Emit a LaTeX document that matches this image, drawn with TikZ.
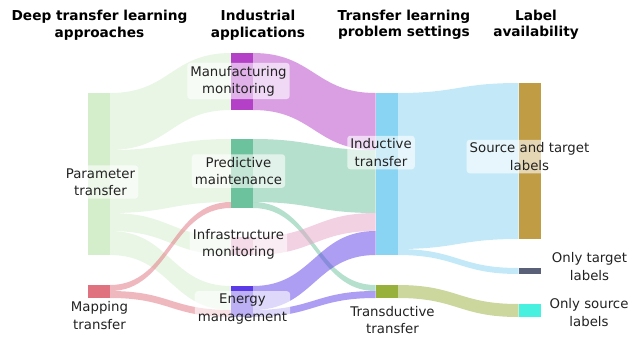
\documentclass[tikz,border=0pt]{standalone}
\usepackage{fontspec}
\setmainfont{DejaVu Sans}
\usetikzlibrary{backgrounds,positioning}

\definecolor{paramc}{HTML}{D4EECB}
\definecolor{mapc}{HTML}{E0727F}
\definecolor{manufc}{HTML}{B540C8}
\definecolor{predc}{HTML}{6CC29C}
\definecolor{infrac}{HTML}{E6A3C5}
\definecolor{energyc}{HTML}{5B3BE8}
\definecolor{inducc}{HTML}{88D4F2}
\definecolor{transc}{HTML}{98B03C}
\definecolor{stc}{HTML}{C09C44}
\definecolor{otc}{HTML}{5A6078}
\definecolor{osc}{HTML}{48F0E0}
\definecolor{labeltext}{HTML}{222222}

% band from #2 (offsets #3..#4 below its top) to #5 (offsets #6..#7)
\newcommand{\sankeyflow}[7]{%
  \fill[#1,fill opacity=0.5] ([yshift=-#3pt]#2.north east)
    .. controls +(60pt,0pt) and +(-60pt,0pt) .. ([yshift=-#6pt]#5.north west)
    -- ([yshift=-#7pt]#5.north west)
    .. controls +(-60pt,0pt) and +(60pt,0pt) .. ([yshift=-#4pt]#2.north east) -- cycle;}

\begin{document}
\begin{tikzpicture}[x=1pt,y=-1pt,
  bar/.style={rectangle,minimum width=22pt,inner sep=0pt,outer sep=0pt},
  lbl/.style={fill=white,fill opacity=0.6,text opacity=1,text=labeltext,rounded corners=3pt,
    inner sep=3pt,align=center,font=\fontsize{13.3}{17.2}\selectfont},
  head/.style={align=center,text=black,font=\bfseries\fontsize{13.7}{16.5}\selectfont}]
  \useasboundingbox (0,0) rectangle (630,338);

  % headers
  \node(h1)[head] at (99.5,25) {Deep transfer learning\\approaches};
  \node(h2)[head] at (258,25) {Industrial\\applications};
  \node(h3)[head] at (404,25) {Transfer learning\\problem settings};
  \node(h4)[head] at (536,25) {Label\\availability};

  % nodes
  \node(param) [bar,fill=paramc,minimum height=162pt] at (99,174) {};
  \node(mapping)[bar,fill=mapc,minimum height=13pt] at (99,291.5) {};
  \node(manuf) [bar,fill=manufc,minimum height=57pt] at (242,81.5) {};
  \node(pred)  [bar,fill=predc,minimum height=69pt] at (242,173.5) {};
  \node(infra) [bar,fill=infrac,minimum height=18pt] at (242,246) {};
  \node(energy)[bar,fill=energyc,minimum height=31pt] at (242,301.5) {};
  \node(induc) [bar,fill=inducc,minimum height=162pt] at (386.5,174) {};
  \node(trans) [bar,fill=transc,minimum height=13pt] at (386.5,291.5) {};
  \node(st)    [bar,fill=stc,minimum height=156pt] at (529.5,161) {};
  \node(ot)    [bar,fill=otc,minimum height=6pt] at (529.5,271) {};
  \node(os)    [bar,fill=osc,minimum height=13pt] at (529.5,310.5) {};

  \begin{scope}[on background layer]
    \sankeyflow{paramc}{param}{0}{57}{manuf}{0}{57}
    \sankeyflow{paramc}{param}{57}{120}{pred}{0}{63}
    \sankeyflow{paramc}{param}{120}{138}{infra}{0}{18}
    \sankeyflow{paramc}{param}{138}{162}{energy}{0}{24}
    \sankeyflow{mapc}{mapping}{0}{6}{pred}{63}{69}
    \sankeyflow{mapc}{mapping}{6}{13}{energy}{24}{31}
    \sankeyflow{manufc}{manuf}{0}{57}{induc}{0}{57}
    \sankeyflow{predc}{pred}{0}{63}{induc}{57}{120}
    \sankeyflow{predc}{pred}{63}{69}{trans}{0}{6}
    \sankeyflow{infrac}{infra}{0}{18}{induc}{120}{138}
    \sankeyflow{energyc}{energy}{0}{24}{induc}{138}{162}
    \sankeyflow{energyc}{energy}{24}{31}{trans}{6}{13}
    \sankeyflow{inducc}{induc}{0}{156}{st}{0}{156}
    \sankeyflow{inducc}{induc}{156}{162}{ot}{0}{6}
    \sankeyflow{transc}{trans}{0}{13}{os}{0}{13}
  \end{scope}

  % labels
  \node(paramlbl) [lbl] at (100.5,182) {Parameter\\transfer};
  \node(maplbl)   [lbl] at (99.5,315.5) {Mapping\\transfer};
  \node(manuflbl) [lbl] at (238.5,81) {Manufacturing\\monitoring};
  \node(predlbl)  [lbl] at (238.5,171) {Predictive\\maintenance};
  \node(infralbl) [lbl] at (238.5,244) {Infrastructure\\monitoring};
  \node(energylbl)[lbl] at (242.5,309) {Energy\\management};
  \node(induclbl) [lbl] at (381,152.5) {Inductive\\transfer};
  \node(translbl) [lbl] at (392.5,320) {Transductive\\transfer};
  \node(stlbl)    [lbl] at (529.5,156.5) {Source and target\\labels};
  \node(otlbl)    [lbl] at (589.5,266.5) {Only target\\labels};
  \node(oslbl)    [lbl] at (589,312.5) {Only source\\labels};
\end{tikzpicture}
\end{document}
